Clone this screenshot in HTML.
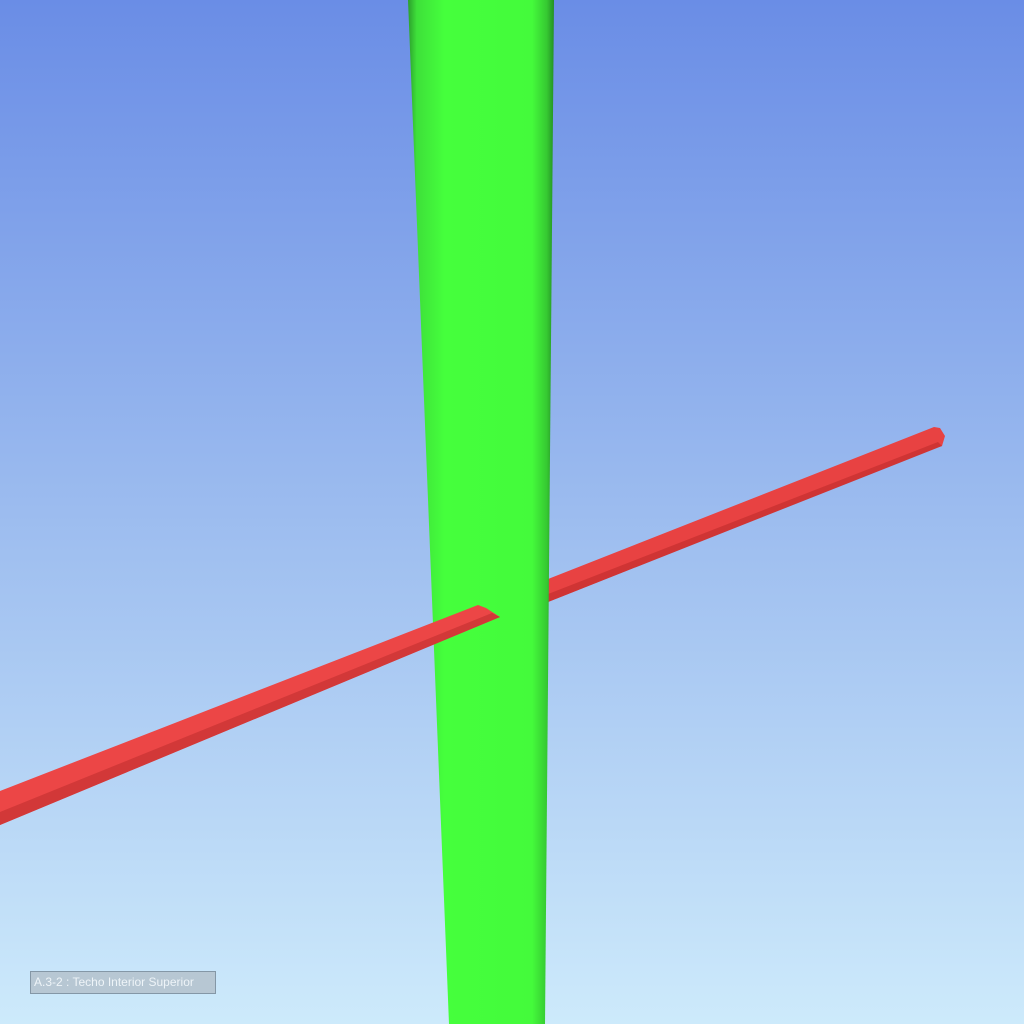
<!DOCTYPE html>
<html><head><meta charset="utf-8"><style>
html,body{margin:0;padding:0;width:1024px;height:1024px;overflow:hidden}
svg{display:block}
.lbl{position:absolute;left:30px;top:971px;width:184px;height:21px;background:#b7c7d3;border:1px solid #8497a6;color:#eef4f8;font:12px "Liberation Sans",sans-serif;line-height:21px;padding-left:3px;box-sizing:border-box;width:186px;height:23px}
</style></head><body>
<svg width="1024" height="1024">
<defs>
<linearGradient id="bg" x1="0" y1="0" x2="0" y2="1">
<stop offset="0" stop-color="#6a8de6"/><stop offset="0.5" stop-color="#9cbcef"/><stop offset="1" stop-color="#cdeafb"/></linearGradient>
<linearGradient id="gr" x1="0" y1="0" x2="1" y2="0">
<stop offset="0" stop-color="#2c9e2c"/><stop offset="0.06" stop-color="#3ee03a"/><stop offset="0.25" stop-color="#45ff3c"/><stop offset="0.85" stop-color="#44fb3b"/><stop offset="0.95" stop-color="#36c932"/><stop offset="1" stop-color="#249024"/></linearGradient>
<linearGradient id="rd" gradientUnits="userSpaceOnUse" x1="0" y1="0" x2="7" y2="18" spreadMethod="pad">
<stop offset="0" stop-color="#f65252"/><stop offset="1" stop-color="#d63636"/></linearGradient>
</defs>
<rect width="1024" height="1024" fill="url(#bg)"/>
<g>
<polygon points="543,581 934,427 940,428 945,436 942,446 938,447 543,604" fill="#e84242"/>
<polygon points="543,596 938,442 942,446 543,604" fill="#cf3434"/>
</g>
<polygon points="408,0 554,0 545,1024 449,1024" fill="url(#gr)"/>
<g>
<polygon points="0,791 478,605 486,608 500,617 0,825" fill="#ec4646"/>
<polygon points="0,812 492,613 500,617 0,825" fill="#d23838"/>
</g>
</svg>
<div class="lbl">A.3-2 : Techo Interior Superior</div>
</body></html>
